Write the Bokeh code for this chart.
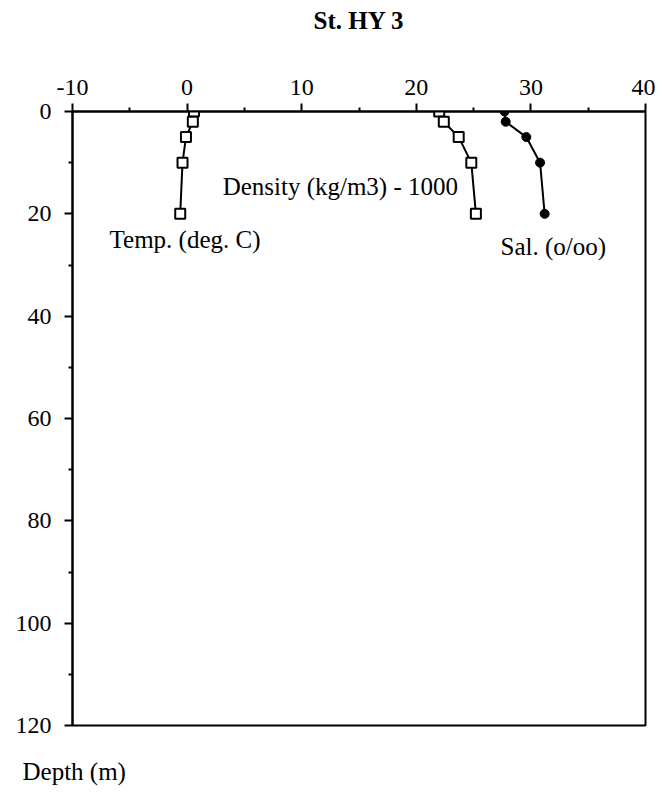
from bokeh.plotting import figure
from bokeh.models import Range1d, FixedTicker, Label, LinearAxis, CustomJSTickFormatter, Title
from bokeh.embed import file_html
from bokeh.resources import INLINE

depth = [0, 2, 5, 10, 20]
temperature = [0.6, 0.5, -0.1, -0.4, -0.6]
density = [22.0, 22.4, 23.7, 24.8, 25.2]
salinity = [27.7, 27.8, 29.6, 30.8, 31.2]

x_ticks = [-10, 0, 10, 20, 30, 40]
x_minor = [-5, 5, 15, 25, 35]
y_ticks = [0, 20, 40, 60, 80, 100, 120]
y_minor = [10, 30, 50, 70, 90, 110]

FONT = "Liberation Serif"

p = figure(width=655, height=794, output_backend="svg", toolbar_location=None,
           x_range=Range1d(-10, 40), y_range=Range1d(120, 0),
           x_axis_location=None, y_axis_location=None,
           min_border_left=72, min_border_right=10, min_border_top=111,
           min_border_bottom=69)
p.xgrid.visible = False
p.ygrid.visible = False
p.outline_line_color = "black"
p.outline_line_width = 2
p.background_fill_color = "white"
p.border_fill_color = "white"

fmt = CustomJSTickFormatter(code="return tick.toFixed(0);")
xa = LinearAxis(ticker=FixedTicker(ticks=x_ticks, minor_ticks=x_minor), formatter=fmt)
ya = LinearAxis(ticker=FixedTicker(ticks=y_ticks, minor_ticks=y_minor), formatter=fmt)
for ax in (xa, ya):
    ax.axis_line_width = 2
    ax.axis_line_color = "black"
    ax.major_tick_line_width = 2
    ax.minor_tick_line_width = 2
    ax.major_tick_in = 0
    ax.minor_tick_in = 0
    ax.major_tick_out = 8
    ax.minor_tick_out = 4
    ax.major_label_text_font = FONT
    ax.major_label_text_font_size = "24px"
    ax.major_label_text_color = "black"
xa.major_label_standoff = 9
ya.major_label_standoff = 13
# chart title, carried by the top axis
xa.axis_label = "St. HY 3"
xa.axis_label_text_font = FONT
xa.axis_label_text_font_size = "25px"
xa.axis_label_text_font_style = "bold"
xa.axis_label_text_color = "black"
xa.axis_label_standoff = 43
p.add_layout(xa, "above")
p.add_layout(ya, "left")

p.add_layout(Title(text="\nDepth (m)", align="left", offset=-50, standoff=6,
                   vertical_align="bottom",
                   text_font=FONT, text_font_size="25px", text_font_style="normal",
                   text_color="black"), "below")

# Temperature
p.line(temperature, depth, line_color="black", line_width=2)
p.scatter(temperature, depth, marker="square", size=10, fill_color="white",
          line_color="black", line_width=2)
# Density
p.line(density, depth, line_color="black", line_width=2)
p.scatter(density, depth, marker="square", size=10, fill_color="white",
          line_color="black", line_width=2)
# Salinity
p.line(salinity, depth, line_color="black", line_width=2)
p.scatter(salinity, depth, marker="circle", size=9, fill_color="black",
          line_color="black", line_width=1)

def lab(x, y, t, size="25px"):
    p.add_layout(Label(x=x, y=y, text=t, text_font=FONT,
                       text_font_size=size, text_align="left",
                       text_baseline="middle", text_color="black"))

lab(3.1, 14.75, "Density (kg/m3) - 1000")
lab(-6.77, 25.1, "Temp. (deg. C)")
lab(27.35, 26.3, "Sal. (o/oo)")

open("out.html", "w").write(file_html(p, INLINE))
